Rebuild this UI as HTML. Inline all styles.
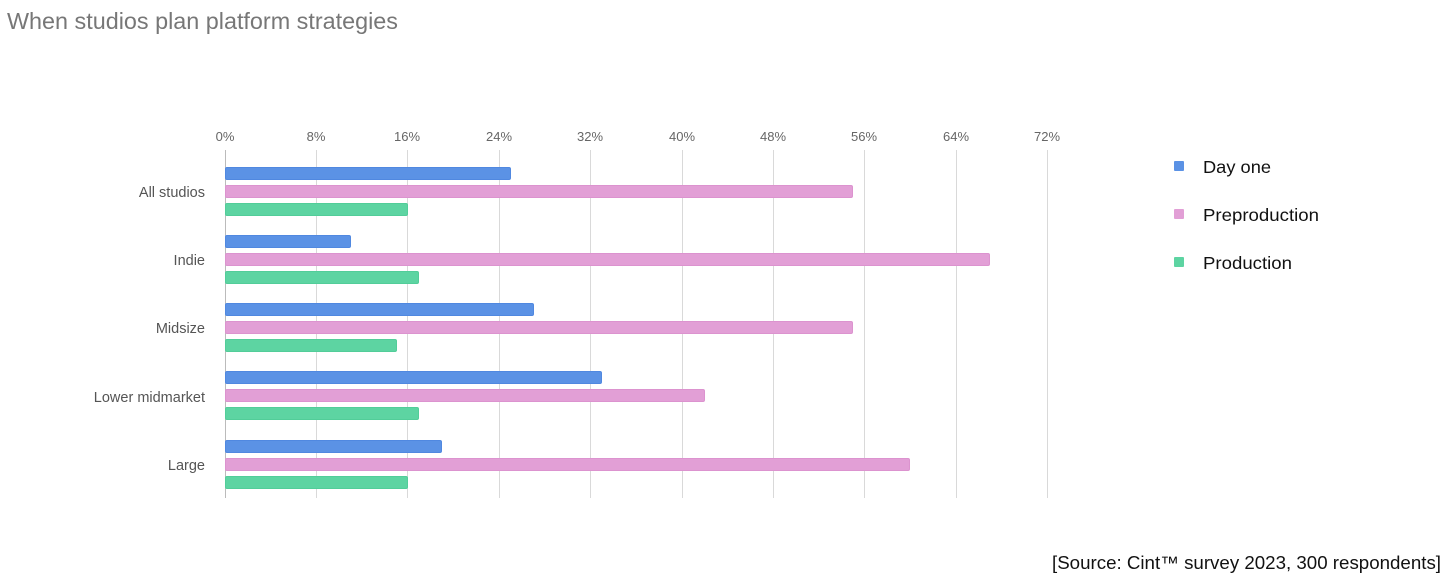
<!DOCTYPE html>
<html><head><meta charset="utf-8"><style>
html,body{margin:0;padding:0;background:#fff;width:1456px;height:587px;overflow:hidden}
svg{display:block}
</style></head><body>
<svg width="1456" height="587" xmlns="http://www.w3.org/2000/svg" font-family="Liberation Sans, sans-serif">
<text x="7" y="29" font-size="23" fill="#777" textLength="391" lengthAdjust="spacingAndGlyphs">When studios plan platform strategies</text>
<g stroke="#d9d9d9" stroke-width="1">
<line x1="225.5" y1="150" x2="225.5" y2="498" stroke="#bbb"/>
<line x1="316.5" y1="150" x2="316.5" y2="498"/>
<line x1="407.5" y1="150" x2="407.5" y2="498"/>
<line x1="499.5" y1="150" x2="499.5" y2="498"/>
<line x1="590.5" y1="150" x2="590.5" y2="498"/>
<line x1="682.5" y1="150" x2="682.5" y2="498"/>
<line x1="773.5" y1="150" x2="773.5" y2="498"/>
<line x1="864.5" y1="150" x2="864.5" y2="498"/>
<line x1="956.5" y1="150" x2="956.5" y2="498"/>
<line x1="1047.5" y1="150" x2="1047.5" y2="498"/>
</g>
<g font-size="13" fill="#666" text-anchor="middle">
<text x="225" y="141">0%</text><text x="316" y="141">8%</text><text x="407" y="141">16%</text><text x="499" y="141">24%</text><text x="590" y="141">32%</text><text x="682" y="141">40%</text><text x="773" y="141">48%</text><text x="864" y="141">56%</text><text x="956" y="141">64%</text><text x="1047" y="141">72%</text>
</g>
<g font-size="14.5" fill="#555" text-anchor="end">
<text x="205" y="197">All studios</text>
<text x="205" y="265">Indie</text>
<text x="205" y="333">Midsize</text>
<text x="205" y="402">Lower midmarket</text>
<text x="205" y="470">Large</text>
</g>
<g stroke-width="1">
<rect x="225.5" y="167.5" width="285" height="12" rx="1.5" fill="#5b92e5" stroke="#5088e0"/>
<rect x="225.5" y="185.5" width="627" height="12" rx="1.5" fill="#e29fd6" stroke="#dc93cf"/>
<rect x="225.5" y="203.5" width="182" height="12" rx="1.5" fill="#5dd4a2" stroke="#52cd99"/>
<rect x="225.5" y="235.5" width="125" height="12" rx="1.5" fill="#5b92e5" stroke="#5088e0"/>
<rect x="225.5" y="253.5" width="764" height="12" rx="1.5" fill="#e29fd6" stroke="#dc93cf"/>
<rect x="225.5" y="271.5" width="193" height="12" rx="1.5" fill="#5dd4a2" stroke="#52cd99"/>
<rect x="225.5" y="303.5" width="308" height="12" rx="1.5" fill="#5b92e5" stroke="#5088e0"/>
<rect x="225.5" y="321.5" width="627" height="12" rx="1.5" fill="#e29fd6" stroke="#dc93cf"/>
<rect x="225.5" y="339.5" width="171" height="12" rx="1.5" fill="#5dd4a2" stroke="#52cd99"/>
<rect x="225.5" y="371.5" width="376" height="12" rx="1.5" fill="#5b92e5" stroke="#5088e0"/>
<rect x="225.5" y="389.5" width="479" height="12" rx="1.5" fill="#e29fd6" stroke="#dc93cf"/>
<rect x="225.5" y="407.5" width="193" height="12" rx="1.5" fill="#5dd4a2" stroke="#52cd99"/>
<rect x="225.5" y="440.5" width="216" height="12" rx="1.5" fill="#5b92e5" stroke="#5088e0"/>
<rect x="225.5" y="458.5" width="684" height="12" rx="1.5" fill="#e29fd6" stroke="#dc93cf"/>
<rect x="225.5" y="476.5" width="182" height="12" rx="1.5" fill="#5dd4a2" stroke="#52cd99"/>
</g>
<rect x="1174" y="161" width="10" height="10" rx="1" fill="#5b92e5"/>
<rect x="1174" y="209" width="10" height="10" rx="1" fill="#e29fd6"/>
<rect x="1174" y="257" width="10" height="10" rx="1" fill="#5dd4a2"/>
<g font-size="17.5" fill="#111">
<text x="1203" y="173" textLength="68" lengthAdjust="spacingAndGlyphs">Day one</text>
<text x="1203" y="221" textLength="116" lengthAdjust="spacingAndGlyphs">Preproduction</text>
<text x="1203" y="269" textLength="89" lengthAdjust="spacingAndGlyphs">Production</text>
</g>
<text x="1052" y="569" font-size="18" fill="#111" textLength="389" lengthAdjust="spacingAndGlyphs">[Source: Cint™ survey 2023, 300 respondents]</text>
</svg>
</body></html>
